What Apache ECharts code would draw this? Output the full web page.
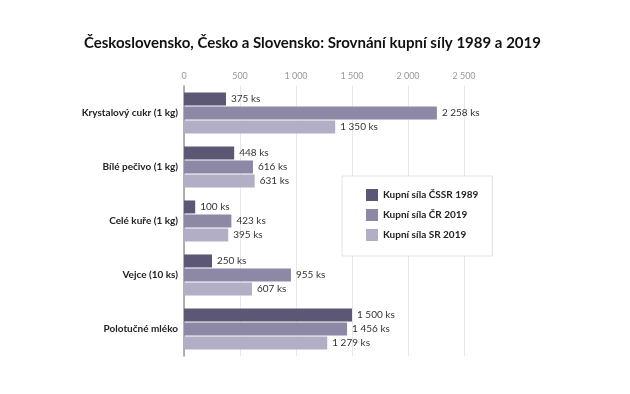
<!DOCTYPE html>
<html><head><meta charset="utf-8">
<script src="https://cdn.jsdelivr.net/npm/echarts@6/dist/echarts.min.js"></script>
<style>html,body{margin:0;padding:0;background:#fff}#c{width:630px;height:394px}</style>
</head><body><div id="c"></div>
<script>
const categories = ['Krystalový cukr (1 kg)', 'Bílé pečivo (1 kg)', 'Celé kuře (1 kg)', 'Vejce (10 ks)', 'Polotučné mléko'];
const seriesNames = ['Kupní síla ČSSR 1989', 'Kupní síla ČR 2019', 'Kupní síla SR 2019'];
const cssr1989 = [375, 448, 100, 250, 1500];
const cr2019 = [2258, 616, 423, 955, 1456];
const sr2019 = [1350, 631, 395, 607, 1279];
const xTicks = [0, 500, 1000, 1500, 2000, 2500];
const colors = ['#5d5776', '#8e88a7', '#b2aec6'];
const font = 'Lato, "Open Sans", sans-serif';
function fmt(v){ return String(v).replace(/\B(?=(\d{3})+(?!\d))/g, ' '); }
const chart = echarts.init(document.getElementById('c'));
const data = [cssr1989, cr2019, sr2019];
chart.setOption({
  animation: false,
  title: { text: 'Československo, Česko a Slovensko: Srovnání kupní síly 1989 a 2019', left: 79, top: 31,
    textStyle: { fontFamily: font, fontSize: 15, fontWeight: 'bold', color: '#111' } },
  legend: { orient: 'vertical', left: 342, top: 176,
    padding: [13, 14, 15, 24], itemGap: 8, itemWidth: 12, itemHeight: 12,
    borderColor: '#e3e3e3', borderWidth: 1, backgroundColor: '#fff',
    textStyle: { fontFamily: font, fontSize: 10, fontWeight: 'bold', color: '#222' },
    data: seriesNames.map(n => ({ name: n, icon: 'rect' })) },
  grid: { left: 184, right: 166, top: 86, height: 270, containLabel: false },
  xAxis: { type: 'value', position: 'top', min: xTicks[0], max: xTicks[xTicks.length-1], interval: 500,
    axisLine: { show: false }, axisTick: { show: false },
    axisLabel: { color: '#999', fontSize: 9, fontFamily: font, formatter: fmt, margin: 5 },
    splitLine: { lineStyle: { color: '#e8e8e8' } } },
  yAxis: { type: 'category', inverse: true, data: categories,
    axisLine: { lineStyle: { color: '#999', width: 1.5 } }, axisTick: { show: false },
    axisLabel: { color: '#222', fontSize: 10, fontWeight: 'bold', fontFamily: font, margin: 6 } },
  series: seriesNames.map((n, i) => ({
    name: n, type: 'bar', data: data[i], barWidth: 13, barGap: '8%',
    itemStyle: { color: colors[i] },
    label: { show: true, position: 'right', distance: 5, color: '#333', fontSize: 10, fontFamily: font,
      formatter: p => fmt(p.value) + ' ks' }
  }))
});
</script></body></html>
